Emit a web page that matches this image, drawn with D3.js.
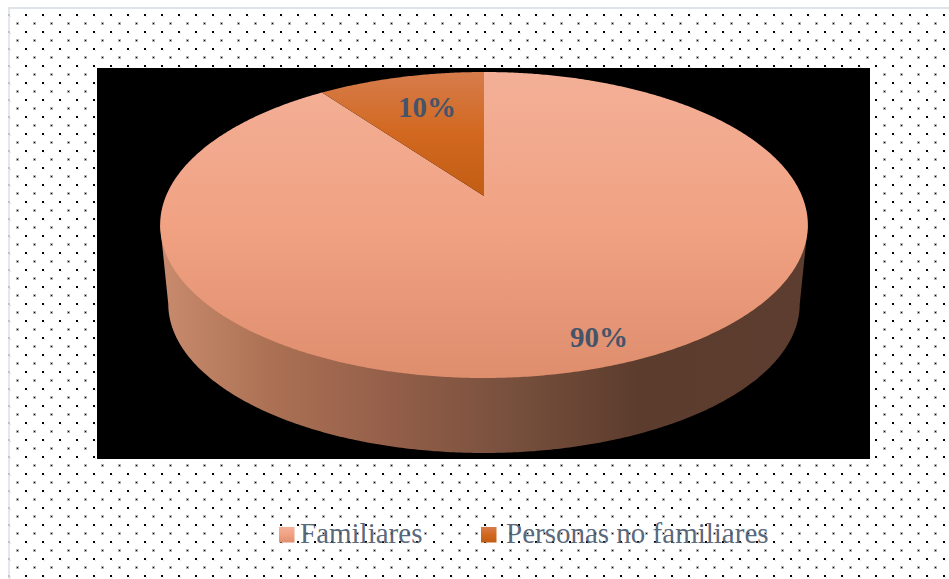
<!DOCTYPE html>
<html lang="es">
<head>
<meta charset="utf-8">
<title>Familiares y personas no familiares</title>
<script src="https://cdn.jsdelivr.net/npm/d3@7/dist/d3.min.js"></script>
<style>
  html, body { margin: 0; padding: 0; background: #fff; }
  svg { display: block; }
  text { font-family: "Liberation Serif", "Times New Roman", serif; fill: #44546a; }
</style>
</head>
<body>
<div id="chart"></div>
<script>
// Series shown in the pie, as percentages
const categories = ["Familiares", "Personas no familiares"];
const shares = [90, 10];
const shareLabels = ["90%", "10%"];

const width = 949, height = 579;

// Perspective of the tilted disc: k is the foreshortening along the view axis
const k = -0.1895;
const topRim = { cx: 484, cy: 196, rx: 318, ry: 147.5 };
const baseRim = { cx: 484, cy: 275.7, rx: 310, ry: 143.7 };

const unit = d3.scaleLinear().domain([-1, 1]);
function project(rim, angle, r = 1) {
  const x = Math.sin(angle) * r;
  const t = -Math.cos(angle) * r;
  const w = 1 + k * t;
  return [
    unit.range([rim.cx - rim.rx, rim.cx + rim.rx])(x / w),
    unit.range([rim.cy - rim.ry, rim.cy + rim.ry])(t / w)
  ];
}

const svg = d3.select("#chart").append("svg")
  .attr("width", width).attr("height", height);
const defs = svg.append("defs");

function verticalGradient(id, stops) {
  const g = defs.append("linearGradient").attr("id", id)
    .attr("x1", 0).attr("y1", 0).attr("x2", 0).attr("y2", 1);
  stops.forEach(([o, c]) => g.append("stop").attr("offset", o).attr("stop-color", c));
}
verticalGradient("grad-familiares", [[0, "#f3b097"], [0.5, "#f1a283"], [1, "#de8e6d"]]);
verticalGradient("grad-otros", [[0, "#d67c4c"], [0.5, "#d2681f"], [1, "#c25d14"]]);

// Side wall shading runs left to right, from lit to shadowed
const wallGrad = defs.append("linearGradient").attr("id", "grad-wall")
  .attr("gradientUnits", "userSpaceOnUse")
  .attr("x1", 160).attr("y1", 0).attr("x2", 808).attr("y2", 0);
[[0, "#c98b6d"], [0.17, "#ac7154"], [0.34, "#96604a"], [0.52, "#7b523f"],
 [0.74, "#5c3c2d"], [1, "#5d3d2f"]]
  .forEach(([o, c]) => wallGrad.append("stop").attr("offset", o).attr("stop-color", c));

// Dotted backdrop: two staggered rows of small dots
const dots = defs.append("pattern").attr("id", "dots")
  .attr("patternUnits", "userSpaceOnUse")
  .attr("x", 8).attr("y", 14).attr("width", 17).attr("height", 17);
dots.append("rect").attr("width", 2).attr("height", 2).attr("fill", "#000");
dots.append("rect").attr("x", 2).attr("y", 2).attr("width", 1).attr("height", 1).attr("fill", "#ddd");
dots.append("rect").attr("x", 8).attr("y", 8).attr("width", 3).attr("height", 3).attr("fill", "#b4b4b4");
dots.append("rect").attr("x", 9).attr("y", 9).attr("width", 1).attr("height", 1).attr("fill", "#000");

svg.append("rect").attr("x", 8).attr("y", 7).attr("width", width - 8).attr("height", height - 7)
  .attr("fill", "url(#dots)");
svg.append("rect").attr("x", 8).attr("y", 7).attr("width", 2).attr("height", height - 7)
  .attr("fill", "#dfe4ea").attr("fill-opacity", 0.85);
svg.append("rect").attr("x", 8).attr("y", 7).attr("width", width - 8).attr("height", 2)
  .attr("fill", "#dfe4ea");

// Plot area
svg.append("rect").attr("x", 97).attr("y", 68).attr("width", 773).attr("height", 391)
  .attr("fill", "#000");

const line = d3.line();
const arcs = d3.pie().value(d => d).sort(null)(shares);

// Side wall: front half of the base rim, closed against the widest points of the top rim
const samples = d3.range(0, 721).map(i => i / 720 * 2 * Math.PI);
const rightAngle = samples[d3.greatestIndex(samples, a => project(topRim, a)[0])];
const leftAngle = samples[d3.leastIndex(samples, a => project(topRim, a)[0])];
const front = samples.filter(a => a >= rightAngle && a <= leftAngle);
svg.append("path")
  .attr("d", line([
    project(topRim, rightAngle),
    ...front.map(a => project(baseRim, a)),
    project(topRim, leftAngle)
  ]) + "Z")
  .attr("fill", "url(#grad-wall)");

// Top face, one wedge per category
const fills = ["url(#grad-familiares)", "url(#grad-otros)"];
svg.selectAll("path.slice").data(arcs).join("path")
  .attr("class", "slice")
  .attr("fill", (d, i) => fills[i])
  .attr("d", d => {
    const n = Math.ceil((d.endAngle - d.startAngle) * 120);
    const rim = d3.range(n + 1).map(i =>
      project(topRim, d.startAngle + (d.endAngle - d.startAngle) * i / n));
    return line([project(topRim, 0, 0), ...rim]) + "Z";
  });

// Percentage labels
const labelAt = [[599, 347], [427, 117]];
svg.selectAll("text.share").data(shareLabels).join("text")
  .attr("class", "share")
  .attr("x", (d, i) => labelAt[i][0])
  .attr("y", (d, i) => labelAt[i][1])
  .attr("text-anchor", "middle")
  .attr("font-size", 29)
  .attr("font-weight", 700)
  .text(d => d);

// Legend: swatch and label columns
const swatchX = d3.scaleOrdinal().domain(categories).range([279, 481]);
const labelX = d3.scaleOrdinal().domain(categories).range([300, 506]);
const legend = svg.selectAll("g.legend").data(categories).join("g")
  .attr("class", "legend");
legend.append("rect")
  .attr("x", d => swatchX(d)).attr("y", 527)
  .attr("width", 15.5).attr("height", 15.5)
  .attr("fill", (d, i) => fills[i]);
legend.append("text")
  .attr("x", d => labelX(d)).attr("y", 543)
  .attr("font-size", 29).attr("fill-opacity", 0.9)
  .text(d => d);
</script>
</body>
</html>
